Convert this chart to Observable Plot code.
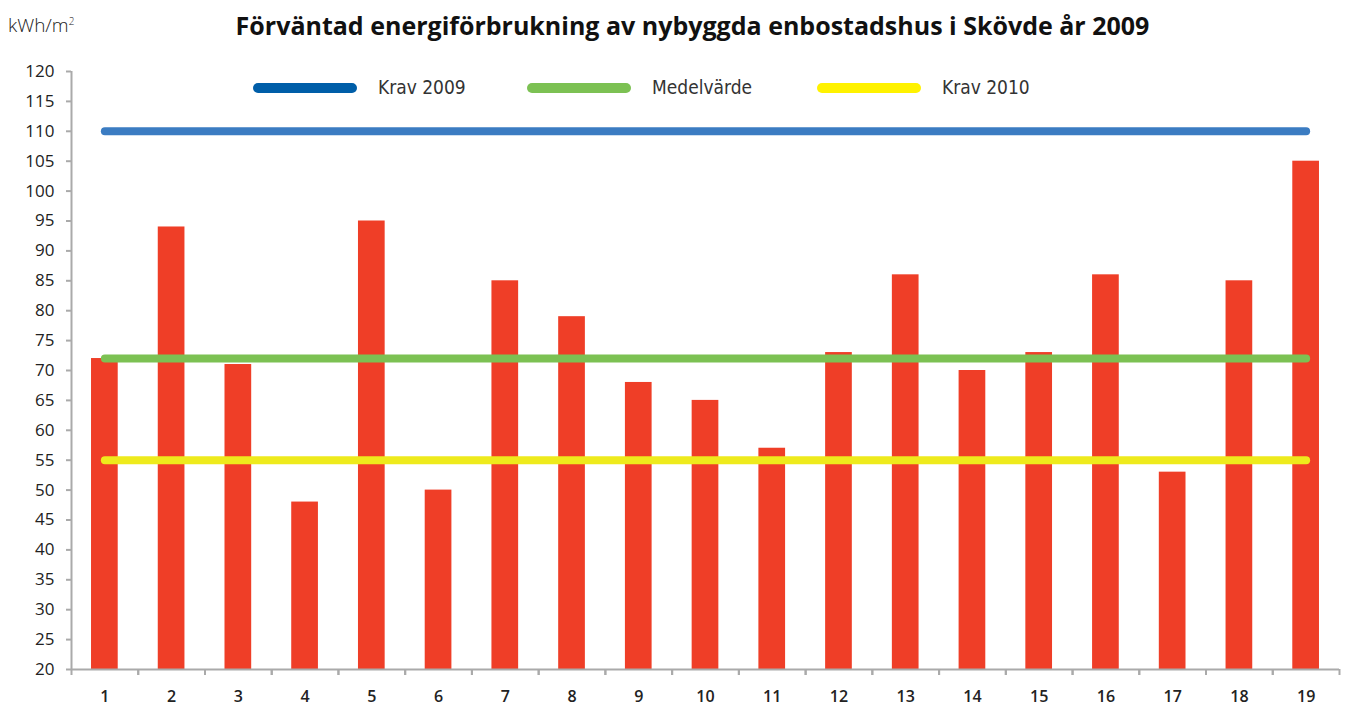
<!DOCTYPE html>
<html>
<head>
<meta charset="utf-8">
<script src="https://cdn.jsdelivr.net/npm/d3@7"></script>
<script src="https://cdn.jsdelivr.net/npm/@observablehq/plot@0.6"></script>
<style>
  body { margin: 0; background: #fff; }
  #wrap { position: relative; width: 1355px; height: 708px; }
  #head { position: relative; height: 55px; }
  #title { position: absolute; left: 0; right: 0; top: 8px; text-align: center; padding-left: 30px;
    font-family: "Open Sans", sans-serif; font-weight: 700; font-size: 25px; color: #111; }
  #unit { position: absolute; left: 8px; top: 12px; font-family: "Open Sans", sans-serif; font-size: 19px; color: #222; font-weight: 300; }
  #unit sup { font-size: 10px; }
  #legend { position: absolute; top: 76px; left: 0; width: 1355px; height: 24px;
    font-family: "Liberation Sans Narrow", "DejaVu Sans Condensed", sans-serif; font-size: 19px; color: #333; }
  .sw { position: absolute; top: 7px; width: 104px; height: 10px; border-radius: 5px; }
  .lt { position: absolute; top: 0px; }
</style>
</head>
<body>
<div id="wrap">
  <div id="head">
    <div id="unit">kWh/m<sup>2</sup></div>
    <div id="title">Förväntad energiförbrukning av nybyggda enbostadshus i Skövde år 2009</div>
  </div>
  <div id="chart"></div>
  <div id="legend"></div>
</div>
<script>
const categories = ["1","2","3","4","5","6","7","8","9","10","11","12","13","14","15","16","17","18","19"];
const values = [72, 94, 71, 48, 95, 50, 85, 79, 68, 65, 57, 73, 86, 70, 73, 86, 53, 85, 105];
const refNames = ["Krav 2009", "Medelvärde", "Krav 2010"];
const refValues = [110, 72, 55];
const refColors = ["#3b7cc2", "#7cc153", "#eeea1c"];
const legendColors = ["#005ea8", "#7cc153", "#fff200"];
const yTicks = d3.range(20, 121, 5);

const bars = categories.map((c, i) => ({cat: c, value: values[i]}));
const refLines = refNames.flatMap((n, i) => [
  {name: n, cat: categories[0], value: refValues[i], color: refColors[i]},
  {name: n, cat: categories[categories.length - 1], value: refValues[i], color: refColors[i]}
]);

const W = 1355, H = 653, mL = 71, mR = 16;
const halfStep = (W - mL - mR) / categories.length / 2;

const chart = Plot.plot({
  width: W, height: H,
  marginLeft: mL, marginRight: mR, marginTop: 16, marginBottom: 39,
  style: {fontFamily: "'Open Sans', sans-serif", fontSize: "17px", color: "#222", background: "#fff"},
  x: {type: "band", domain: categories, paddingInner: 0.6, paddingOuter: 0.3, round: false, label: null},
  y: {domain: [20, 120], label: null},
  marks: [
    Plot.barY(bars, {x: "cat", y1: 20, y2: "value", fill: "#ef3e27"}),
    Plot.ruleY([20], {stroke: "#aaa", strokeWidth: 2}),
    Plot.ruleX([categories[0]], {dx: -halfStep, stroke: "#aaa", strokeWidth: 2}),
    Plot.axisY({ticks: yTicks, tickSize: 5, tickPadding: 12, stroke: "#aaa", strokeWidth: 2, label: null, fontSize: 17, fill: "#222"}),
    Plot.axisX({tickSize: 6, dx: -halfStep, tickFormat: () => "", stroke: "#aaa", strokeWidth: 2, label: null}),
    Plot.axisX({tickSize: 6, dx: halfStep, tickFormat: () => "", stroke: "#aaa", strokeWidth: 2, label: null}),
    Plot.axisX({tickSize: 0, tickPadding: 21, label: null, fontSize: 16, fontWeight: 600, fill: "#222"}),
    Plot.lineY(refLines, {x: "cat", y: "value", z: "name", stroke: "color", strokeWidth: 8, strokeLinecap: "round"})
  ]
});
document.getElementById("chart").appendChild(chart);

// enforce label font sizes
d3.select(chart).selectAll("g[aria-label='y-axis tick label']").attr("font-size", 17)
  .selectAll("text").style("font-size", "17px");
d3.select(chart).selectAll("g[aria-label='x-axis tick label']").attr("font-size", 16).attr("font-weight", 600)
  .selectAll("text").style("font-size", "16px").style("font-weight", "600");

const legend = document.getElementById("legend");
const swLeft = [253, 527, 817];
refNames.forEach((n, i) => {
  const s = document.createElement("div");
  s.className = "sw"; s.style.left = swLeft[i] + "px"; s.style.background = legendColors[i];
  legend.appendChild(s);
  const t = document.createElement("div");
  t.className = "lt"; t.style.left = (swLeft[i] + 125) + "px"; t.textContent = n;
  legend.appendChild(t);
});
</script>
</body>
</html>
